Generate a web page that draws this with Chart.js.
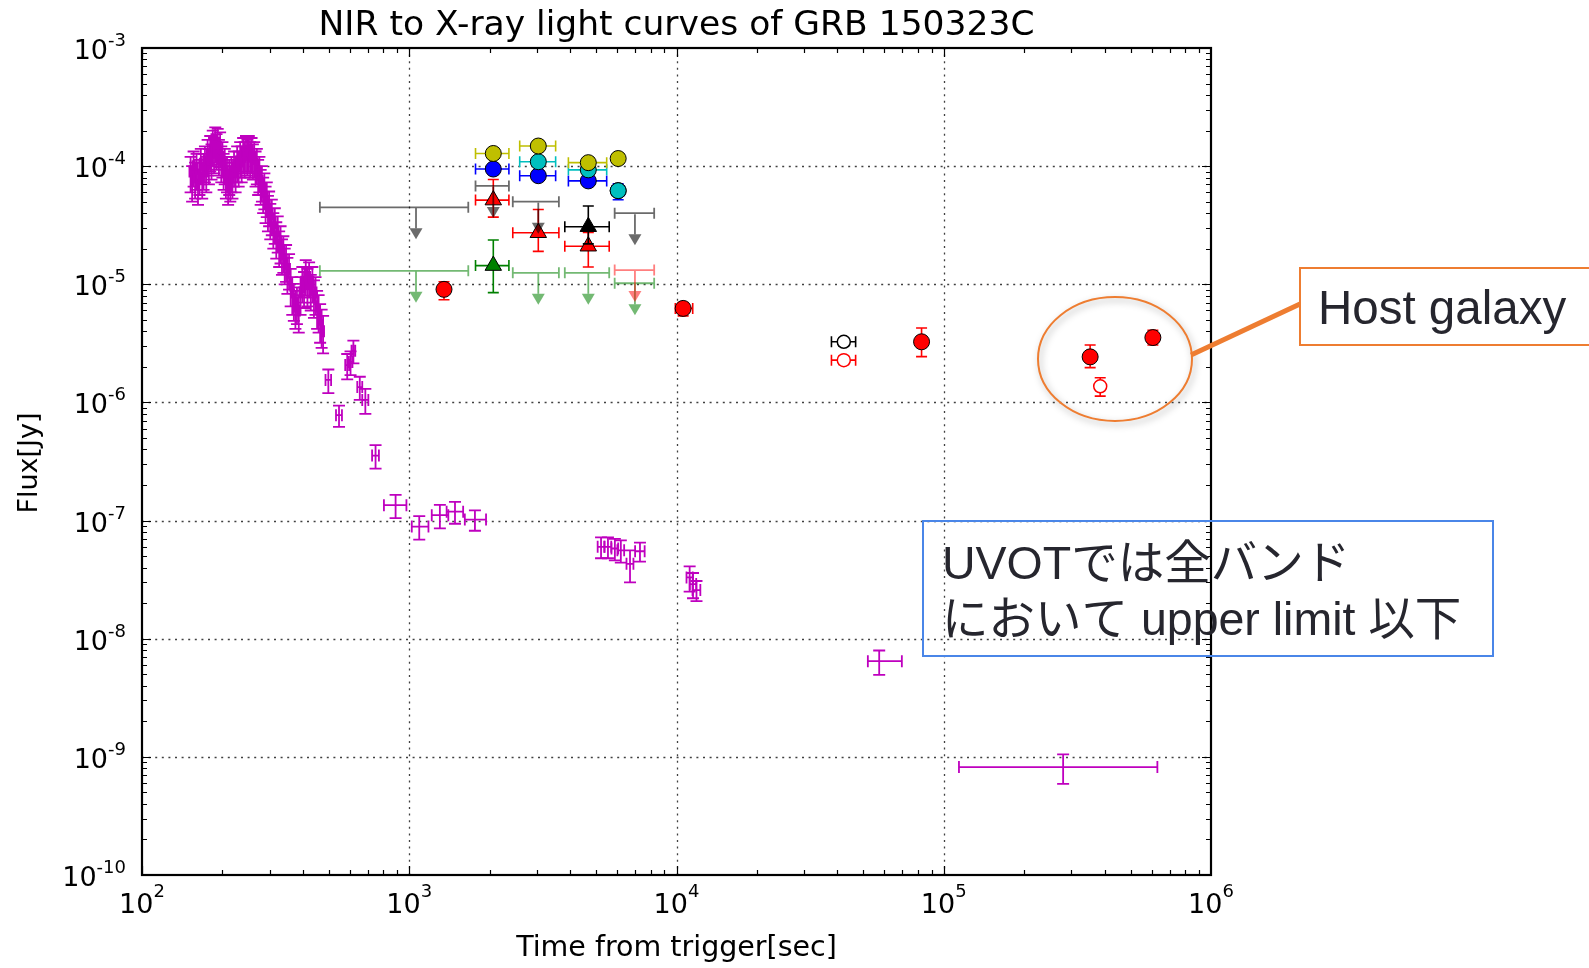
<!DOCTYPE html>
<html><head><meta charset="utf-8">
<script src="https://cdn.jsdelivr.net/npm/chart.js@4.4.1/dist/chart.umd.min.js"></script>
<style>html,body{margin:0;padding:0;background:#fff;}canvas{display:block;}</style>
</head><body>
<canvas id="c" width="1589" height="968" style="width:1589px;height:968px"></canvas>
<script>
// ================= DATA =================
// Axis decades (tick labels)
const xDecades = [2, 3, 4, 5, 6];
const yDecades = [-10, -9, -8, -7, -6, -5, -4, -3];

// Swift/XRT early (WT) X-ray points, flux in units of 1e-5 Jy
const WT_UNIT = 1e-5;
const xrtWtTime = [152,154,156,158,160,162,164,166,168,170,172,174,176,178,180,182,184,186,188,190,192,194,196,198,200,202,204,206,208,210,212,214,216,218,
  221,224,227,230,233,236,239,242,245,248,251,254,257,260,263,266,269,272,275,278,281,284,287,290,293,296,299,
  302,306,310,314,318,322,326,330,334,338,342,346,350,
  355,360,365,370,375,380,
  386,392,398,404,410,416,422,428,434,440,446,452,458,464,470,476];
const xrtWtTimeErr = [1.5,1.5,1.5,1.5,1.5,1.5,1.5,1.5,1.5,1.5,1.5,1.5,1.5,1.5,1.5,1.5,1.5,1.5,1.5,1.5,1.5,1.5,1.5,1.5,1.5,1.5,1.5,1.5,1.5,1.5,1.5,1.5,1.5,1.5,
  2,2,2,2,2,2,2,2,2,2,2,2,2,2,2,2,2,2,2,2,2,2,2,2,2,2,2,
  2.5,2.5,2.5,2.5,2.5,2.5,2.5,2.5,2.5,2.5,2.5,2.5,2.5,
  3,3,3,3,3,3,
  4,4,4,4,4,4,4,4,4,4,4,4,4,4,4,4];
const xrtWtFlux = [9.0,7.5,10.0,8.0,9.5,7.0,8.5,10.5,8.0,9.5,11.0,9.0,12.5,10.5,13.5,11.5,15.0,13.0,16.0,14.0,15.5,12.5,14.5,11.0,12.0,9.5,10.5,8.0,9.0,7.0,8.5,7.5,9.0,8.0,
  10.0,9.0,11.0,10.0,12.0,11.0,13.0,12.0,13.5,12.5,13.5,12.0,13.0,11.5,12.0,10.0,10.5,8.5,9.0,7.0,7.5,6.0,6.5,5.0,5.5,4.2,4.6,
  3.6,3.9,3.0,3.3,2.5,2.8,2.1,2.3,1.8,1.9,1.5,1.6,1.25,
  1.35,1.0,0.85,0.75,0.65,0.7,
  0.6,0.85,1.05,0.95,1.2,1.0,1.15,0.9,1.05,0.8,0.85,0.65,0.6,0.5,0.45,0.4];
const xrtWtFluxErr = [3.0,2.5,3.3,2.7,3.2,2.3,2.8,3.5,2.7,3.2,3.7,3.0,4.2,3.5,4.5,3.8,5.0,4.3,5.3,4.7,5.2,4.2,4.8,3.7,4.0,3.2,3.5,2.7,3.0,2.3,2.8,2.5,3.0,2.7,
  3.3,3.0,3.7,3.3,4.0,3.7,4.3,4.0,4.5,4.2,4.5,4.0,4.3,3.8,4.0,3.3,3.5,2.8,3.0,2.3,2.5,2.0,2.2,1.7,1.8,1.4,1.5,
  1.2,1.3,1.0,1.1,0.85,0.95,0.7,0.8,0.6,0.65,0.5,0.55,0.42,
  0.45,0.35,0.3,0.26,0.23,0.24,
  0.21,0.3,0.35,0.32,0.4,0.35,0.38,0.3,0.35,0.28,0.3,0.23,0.21,0.18,0.16,0.14];

// Swift/XRT later (PC) X-ray points
const xrtPcTime   = [498,546,586,603,618,653,685,748,889,1090,1302,1483,1761,5220,5540,5880,6190,6700,7300,11200,11530,11880,57340,279700];
const xrtPcTimeLo = [12,14,10,10,10,14,18,22,85,68,88,103,147,150,160,170,180,200,300,300,320,400,5340,165700];
const xrtPcTimeHi = [12,14,10,10,10,14,18,22,87,90,98,108,177,150,160,170,180,200,300,300,320,400,12360,350300];
const xrtPcFlux   = [1.55e-6,7.8e-7,2.07e-6,2.2e-6,2.74e-6,1.35e-6,1.05e-6,3.55e-7,1.35e-7,8.9e-8,1.11e-7,1.19e-7,1.02e-7,6.0e-8,6.0e-8,5.8e-8,5.6e-8,4.3e-8,5.5e-8,3.3e-8,2.9e-8,2.58e-8,6.45e-9,8.2e-10];
const xrtPcFluxErr= [3.5e-7,1.6e-7,5e-7,5e-7,6e-7,3e-7,2.5e-7,8e-8,3e-8,2e-8,2.5e-8,2.5e-8,2e-8,1.2e-8,1.2e-8,1.2e-8,1.2e-8,1.3e-8,1.0e-8,8e-9,7e-9,5e-9,1.5e-9,2.3e-10];

// Optical / NIR detections (time bounds and flux bounds)
const yelTime = [2063, 3040, 4677, 6050];
const yelTLo  = [1770, 2590, 3940, null];
const yelTHi  = [2360, 3530, 5480, null];
const yelFlux = [1.28e-4, 1.48e-4, 1.07e-4, 1.16e-4];
const yelFLo  = [1.18e-4, 1.38e-4, 0.99e-4, 1.10e-4];
const yelFHi  = [1.38e-4, 1.58e-4, 1.15e-4, 1.22e-4];

const cyaTime = [3040, 4677, 6050];
const cyaTLo  = [2590, 3940, null];
const cyaTHi  = [3530, 5480, null];
const cyaFlux = [1.09e-4, 9.3e-5, 6.2e-5];
const cyaFLo  = [1.0e-4, 8.6e-5, 5.7e-5];
const cyaFHi  = [1.18e-4, 1.0e-4, 6.7e-5];

const bluTime = [2063, 3040, 4677, 6050];
const bluTLo  = [1770, 2590, 3940, 5750];
const bluTHi  = [2360, 3530, 5480, 6380];
const bluFlux = [9.45e-5, 8.3e-5, 7.5e-5, 6.2e-5];
const bluFLo  = [8.8e-5, 7.7e-5, 7.0e-5, 5.2e-5];
const bluFHi  = [1.01e-4, 8.9e-5, 8.0e-5, 7.1e-5];

const rtrTime = [2063, 3040, 4677];
const rtrTLo  = [1770, 2440, 3820];
const rtrTHi  = [2360, 3630, 5600];
const rtrFlux = [5.16e-5, 2.73e-5, 2.1e-5];
const rtrFLo  = [3.7e-5, 1.9e-5, 1.4e-5];
const rtrFHi  = [7.7e-5, 4.3e-5, 2.75e-5];

const ktrTime = [4677];
const ktrTLo  = [3820];
const ktrTHi  = [5600];
const ktrFlux = [3.07e-5];
const ktrFLo  = [2.2e-5];
const ktrFHi  = [4.6e-5];

const gtrTime = [2063];
const gtrTLo  = [1770];
const gtrTHi  = [2360];
const gtrFlux = [1.44e-5];
const gtrFLo  = [8.5e-6];
const gtrFHi  = [2.37e-5];

const redTime = [1349, 10590, 82600, 353000, 606000];
const redTLo  = [null, 9900, null, null, null];
const redTHi  = [null, 11500, null, null, null];
const redFlux = [9.06e-6, 6.25e-6, 3.26e-6, 2.43e-6, 3.54e-6];
const redFLo  = [7.4e-6, 5.4e-6, 2.44e-6, 1.97e-6, 3.06e-6];
const redFHi  = [1.05e-5, 7.0e-6, 4.26e-6, 3.06e-6, 4.07e-6];

const redOpenTime = [42270, 385000];
const redOpenTLo  = [38000, null];
const redOpenTHi  = [46800, null];
const redOpenFlux = [2.28e-6, 1.37e-6];
const redOpenFLo  = [2.1e-6, 1.13e-6];
const redOpenFHi  = [2.46e-6, 1.62e-6];

const blkOpenTime = [42270];
const blkOpenTLo  = [38000];
const blkOpenTHi  = [46800];
const blkOpenFlux = [3.26e-6];
const blkOpenFLo  = [3.0e-6];
const blkOpenFHi  = [3.5e-6];

// Upper limits
const grayUlTime = [1060, 2063, 3040, 6990];
const grayUlTLo  = [463, 1770, 2440, 5870];
const grayUlTHi  = [1663, 2360, 3630, 8250];
const grayUlFlux = [4.48e-5, 6.8e-5, 5.0e-5, 4.0e-5];

const grnUlTime = [1060, 3040, 4677, 6990];
const grnUlTLo  = [463, 2440, 3820, 5870];
const grnUlTHi  = [1663, 3630, 5600, 8250];
const grnUlFlux = [1.3e-5, 1.25e-5, 1.25e-5, 1.02e-5];

const redUlTime = [6990];
const redUlTLo  = [5870];
const redUlTHi  = [8250];
const redUlFlux = [1.32e-5];

// ================= BUILD =================
function pts(t, f, tLo, tHi, fLo, fHi) {
  return t.map((v, i) => ({x: v, y: f[i],
    xl: tLo ? tLo[i] : null, xh: tHi ? tHi[i] : null,
    yl: fLo ? fLo[i] : null, yh: fHi ? fHi[i] : null}));
}
const wtPts = xrtWtTime.map((t, i) => ({x: t, y: xrtWtFlux[i] * WT_UNIT,
  xl: t - xrtWtTimeErr[i], xh: t + xrtWtTimeErr[i],
  yl: (xrtWtFlux[i] - xrtWtFluxErr[i]) * WT_UNIT, yh: (xrtWtFlux[i] + xrtWtFluxErr[i]) * WT_UNIT}));
const pcPts = xrtPcTime.map((t, i) => ({x: t, y: xrtPcFlux[i],
  xl: t - xrtPcTimeLo[i], xh: t + xrtPcTimeHi[i],
  yl: xrtPcFlux[i] - xrtPcFluxErr[i], yh: xrtPcFlux[i] + xrtPcFluxErr[i]}));

const MAG = '#bf00bf';
function circ(c) { return {pointStyle: 'circle', pointRadius: 8, backgroundColor: c, borderColor: '#000', borderWidth: 1}; }
function tri(c) { return {pointStyle: 'triangle', pointRadius: 9.5, backgroundColor: c, borderColor: '#000', borderWidth: 1}; }
function open(c) { return {pointStyle: 'circle', pointRadius: 6.5, backgroundColor: '#fff', borderColor: c, borderWidth: 1.5}; }

const seq = [
  {label: 'XRT WT', data: wtPts, pointRadius: 0, eb: {color: MAG, lw: 1.8, cap: 6}},
  {label: 'XRT PC', data: pcPts, pointRadius: 0, eb: {color: MAG, lw: 1.8, cap: 6}},
  {label: 'green UL', data: pts(grnUlTime, grnUlFlux, grnUlTLo, grnUlTHi), pointRadius: 0, ul: {color: 'rgba(0,128,0,0.55)'}},
  {label: 'red UL', data: pts(redUlTime, redUlFlux, redUlTLo, redUlTHi), pointRadius: 0, ul: {color: 'rgba(255,0,0,0.5)'}},
  Object.assign({label: 'green tri', data: pts(gtrTime, gtrFlux, gtrTLo, gtrTHi, gtrFLo, gtrFHi), eb: {color: '#008000', lw: 1.6, cap: 5.5}}, tri('#008000')),
  Object.assign({label: 'red tri', data: pts(rtrTime, rtrFlux, rtrTLo, rtrTHi, rtrFLo, rtrFHi), eb: {color: '#ff0000', lw: 1.6, cap: 5.5}}, tri('#ff0000')),
  Object.assign({label: 'black tri', data: pts(ktrTime, ktrFlux, ktrTLo, ktrTHi, ktrFLo, ktrFHi), eb: {color: '#000', lw: 1.6, cap: 5.5}}, tri('#000')),
  {label: 'gray UL', data: pts(grayUlTime, grayUlFlux, grayUlTLo, grayUlTHi), pointRadius: 0, ul: {color: 'rgba(0,0,0,0.58)'}},
  Object.assign({label: 'blue', data: pts(bluTime, bluFlux, bluTLo, bluTHi, bluFLo, bluFHi), eb: {color: '#0000ff', lw: 1.6, cap: 5.5}}, circ('#0000ff')),
  Object.assign({label: 'cyan', data: pts(cyaTime, cyaFlux, cyaTLo, cyaTHi, cyaFLo, cyaFHi), eb: {color: '#00bfbf', lw: 1.6, cap: 5.5}}, circ('#00bfbf')),
  Object.assign({label: 'yellow', data: pts(yelTime, yelFlux, yelTLo, yelTHi, yelFLo, yelFHi), eb: {color: '#bfbf00', lw: 1.6, cap: 5.5}}, circ('#bfbf00')),
  Object.assign({label: 'red', data: pts(redTime, redFlux, redTLo, redTHi, redFLo, redFHi), eb: {color: '#ff0000', lw: 1.6, cap: 5.5}}, circ('#ff0000')),
  Object.assign({label: 'red open', data: pts(redOpenTime, redOpenFlux, redOpenTLo, redOpenTHi, redOpenFLo, redOpenFHi), eb: {color: '#ff0000', lw: 1.6, cap: 5.5}}, open('#ff0000')),
  Object.assign({label: 'black open', data: pts(blkOpenTime, blkOpenFlux, blkOpenTLo, blkOpenTHi, blkOpenFLo, blkOpenFHi), eb: {color: '#000', lw: 1.6, cap: 5.5}}, open('#000'))
];
seq.forEach((d, i) => { d.order = seq.length - i; d.showLine = false; d.pointHoverRadius = d.pointRadius; });

// ================= DRAWING PLUGIN =================
const FONT = '"DejaVu Sans", sans-serif';
function drawEB(ctx, xs, ys, p, s) {
  const X = xs.getPixelForValue(p.x), Y = ys.getPixelForValue(p.y);
  ctx.strokeStyle = s.color; ctx.lineWidth = s.lw; ctx.setLineDash([]);
  ctx.beginPath();
  if (p.xl != null && p.xh != null) {
    const a = xs.getPixelForValue(p.xl), b = xs.getPixelForValue(p.xh);
    ctx.moveTo(a, Y); ctx.lineTo(b, Y);
    ctx.moveTo(a, Y - s.cap); ctx.lineTo(a, Y + s.cap);
    ctx.moveTo(b, Y - s.cap); ctx.lineTo(b, Y + s.cap);
  }
  if (p.yl != null && p.yh != null) {
    const a = ys.getPixelForValue(p.yl), b = ys.getPixelForValue(p.yh);
    ctx.moveTo(X, a); ctx.lineTo(X, b);
    ctx.moveTo(X - s.cap, a); ctx.lineTo(X + s.cap, a);
    ctx.moveTo(X - s.cap, b); ctx.lineTo(X + s.cap, b);
  }
  ctx.stroke();
}
function drawUL(ctx, xs, ys, p, s) {
  const X = xs.getPixelForValue(p.x), Y = ys.getPixelForValue(p.y);
  const a = xs.getPixelForValue(p.xl), b = xs.getPixelForValue(p.xh);
  const L = 32, H = 11, HW = 6.5, cap = 5.5;
  ctx.strokeStyle = s.color; ctx.fillStyle = s.color; ctx.lineWidth = 1.8; ctx.setLineDash([]);
  ctx.beginPath();
  ctx.moveTo(a, Y); ctx.lineTo(b, Y);
  ctx.moveTo(a, Y - cap); ctx.lineTo(a, Y + cap);
  ctx.moveTo(b, Y - cap); ctx.lineTo(b, Y + cap);
  ctx.moveTo(X, Y + 1); ctx.lineTo(X, Y + L - H);
  ctx.stroke();
  ctx.beginPath();
  ctx.moveTo(X - HW, Y + L - H); ctx.lineTo(X + HW, Y + L - H); ctx.lineTo(X, Y + L); ctx.closePath();
  ctx.fill();
}
function supLabel(ctx, exp, x, yBase, align, yExpBase) {
  ctx.fillStyle = '#000';
  ctx.font = '27px ' + FONT;
  const w10 = ctx.measureText('10').width;
  ctx.font = '18px ' + FONT;
  const es = String(exp);
  const we = ctx.measureText(es).width;
  let x0 = align === 'right' ? x - we - w10 : x - (w10 + we) / 2;
  ctx.textAlign = 'left'; ctx.textBaseline = 'alphabetic';
  ctx.font = '27px ' + FONT; ctx.fillText('10', x0, yBase);
  ctx.font = '18px ' + FONT; ctx.fillText(es, x0 + w10, yExpBase);
}

const mpl = {
  id: 'mpl',
  beforeDatasetsDraw(chart) {
    const ctx = chart.ctx, a = chart.chartArea, xs = chart.scales.x, ys = chart.scales.y;
    ctx.save();
    ctx.strokeStyle = 'rgba(0,0,0,0.75)'; ctx.lineWidth = 1.3; ctx.setLineDash([2, 4.6]);
    xDecades.forEach(d => {
      const v = Math.pow(10, d); if (v <= xs.min || v >= xs.max) return;
      const X = Math.round(xs.getPixelForValue(v)) + 0.5;
      ctx.beginPath(); ctx.moveTo(X, a.bottom); ctx.lineTo(X, a.top); ctx.stroke();
    });
    yDecades.forEach(d => {
      const v = Math.pow(10, d); if (v <= ys.min * 1.0001 || v >= ys.max * 0.9999) return;
      const Y = Math.round(ys.getPixelForValue(v)) + 0.5;
      ctx.beginPath(); ctx.moveTo(a.left, Y); ctx.lineTo(a.right, Y); ctx.stroke();
    });
    ctx.restore();
  },
  beforeDatasetDraw(chart, args) {
    const ds = chart.data.datasets[args.index];
    const ctx = chart.ctx, a = chart.chartArea, xs = chart.scales.x, ys = chart.scales.y;
    ctx.save();
    ctx.beginPath(); ctx.rect(a.left, a.top, a.right - a.left, a.bottom - a.top); ctx.clip();
    if (ds.eb) ds.data.forEach(p => drawEB(ctx, xs, ys, p, ds.eb));
    if (ds.ul) ds.data.forEach(p => drawUL(ctx, xs, ys, p, ds.ul));
    ctx.restore();
  },
  afterDatasetsDraw(chart) {
    const ctx = chart.ctx, a = chart.chartArea, xs = chart.scales.x, ys = chart.scales.y;
    ctx.save();
    ctx.setLineDash([]); ctx.strokeStyle = '#000';
    ctx.lineWidth = 1.2;
    for (let d = xDecades[0]; d < xDecades[xDecades.length - 1]; d++) {
      for (let m = 1; m <= 9; m++) {
        const v = m * Math.pow(10, d);
        const X = Math.round(xs.getPixelForValue(v)) + 0.5;
        const len = m === 1 ? 9 : 5;
        ctx.beginPath(); ctx.moveTo(X, a.bottom); ctx.lineTo(X, a.bottom - len);
        ctx.moveTo(X, a.top); ctx.lineTo(X, a.top + len); ctx.stroke();
      }
    }
    for (let d = yDecades[0]; d < yDecades[yDecades.length - 1]; d++) {
      for (let m = 1; m <= 9; m++) {
        const v = m * Math.pow(10, d);
        const Y = Math.round(ys.getPixelForValue(v)) + 0.5;
        const len = m === 1 ? 9 : 5;
        ctx.beginPath(); ctx.moveTo(a.left, Y); ctx.lineTo(a.left + len, Y);
        ctx.moveTo(a.right, Y); ctx.lineTo(a.right - len, Y); ctx.stroke();
      }
    }
    ctx.lineWidth = 2.2;
    ctx.strokeRect(a.left, a.top, a.right - a.left, a.bottom - a.top);
    ctx.restore();
  },
  afterDraw(chart) {
    const ctx = chart.ctx, a = chart.chartArea, xs = chart.scales.x, ys = chart.scales.y;
    ctx.save();
    yDecades.forEach(d => {
      const Y = ys.getPixelForValue(Math.pow(10, d));
      supLabel(ctx, d, 126, Y + 11, 'right', Y - 2);
    });
    xDecades.forEach(d => {
      const X = xs.getPixelForValue(Math.pow(10, d));
      supLabel(ctx, d, X, 913, 'center', 897);
    });
    ctx.fillStyle = '#000';
    ctx.textAlign = 'center'; ctx.textBaseline = 'alphabetic';
    ctx.font = '34.5px ' + FONT;
    ctx.fillText('NIR to X-ray light curves of GRB 150323C', (a.left + a.right) / 2, 35);
    ctx.font = '28.5px ' + FONT;
    ctx.fillText('Time from trigger[sec]', (a.left + a.right) / 2, 956);
    ctx.save();
    ctx.translate(30, 463); ctx.rotate(-Math.PI / 2);
    ctx.textBaseline = 'middle';
    ctx.font = '27px ' + FONT;
    ctx.fillText('Flux[Jy]', 0, 0);
    ctx.restore();

    const ORANGE = '#ee7d31';
    ctx.save();
    ctx.shadowColor = 'rgba(0,0,0,0.35)'; ctx.shadowBlur = 7; ctx.shadowOffsetX = 2; ctx.shadowOffsetY = 3;
    ctx.strokeStyle = ORANGE; ctx.lineWidth = 2;
    ctx.beginPath(); ctx.ellipse(1115, 359, 77, 62, 0, 0, Math.PI * 2); ctx.stroke();
    ctx.restore();
    ctx.strokeStyle = ORANGE; ctx.lineWidth = 5; ctx.lineCap = 'butt';
    ctx.beginPath(); ctx.moveTo(1191, 355); ctx.lineTo(1300, 304); ctx.stroke();
    ctx.fillStyle = '#fff';
    ctx.fillRect(1300, 268, 300, 77);
    ctx.lineWidth = 2;
    ctx.strokeRect(1300, 268, 300, 77);
    ctx.fillStyle = '#26262e'; ctx.textAlign = 'left'; ctx.textBaseline = 'alphabetic';
    ctx.font = '47.5px "Liberation Sans", Arial, sans-serif';
    ctx.fillText('Host galaxy', 1318, 324);

    ctx.strokeStyle = '#4a86e8'; ctx.lineWidth = 2;
    ctx.strokeRect(923, 521, 570, 135);
    ctx.font = '46.5px "Liberation Sans", "Noto Sans CJK JP", sans-serif';
    ctx.fillText('UVOTでは全バンド', 942, 579);
    ctx.fillText('において upper limit 以下', 942, 635);
    ctx.restore();
  }
};

new Chart(document.getElementById('c').getContext('2d'), {
  type: 'scatter',
  data: {datasets: seq},
  options: {
    responsive: false, animation: false, devicePixelRatio: 1, events: [],
    layout: {padding: {left: 142, right: 378, top: 48, bottom: 93}},
    scales: {
      x: {type: 'logarithmic', min: 100, max: 1e6, display: false},
      y: {type: 'logarithmic', min: 1e-10, max: 1e-3, display: false}
    },
    plugins: {legend: {display: false}, tooltip: {enabled: false}, title: {display: false}}
  },
  plugins: [mpl]
});
</script>
</body></html>
